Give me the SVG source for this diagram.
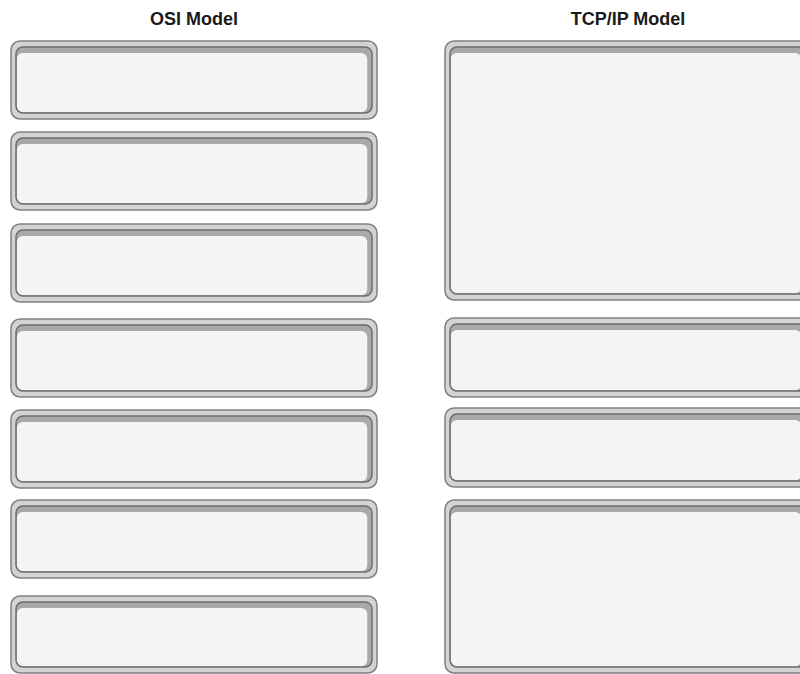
<svg xmlns="http://www.w3.org/2000/svg" width="800" height="674" viewBox="0 0 800 674">
<style>
.t{font-family:"Liberation Sans",Arial,sans-serif;font-weight:bold;font-size:18px;fill:#1a1a1a;text-anchor:middle}
.o{fill:#d3d3d3;stroke:#808080;stroke-width:1.5}
.b{fill:#a9a9a9}
.l{fill:#f3f4f4}
.s{fill:none;stroke:#6c6c6c;stroke-width:1.5}
</style>
<rect width="800" height="674" fill="#ffffff"/>
<text class="t" x="194" y="25">OSI Model</text>
<text class="t" x="628" y="25">TCP/IP Model</text>
<g id="osi-1" transform="translate(11,41)"><rect class="o" width="366" height="78" rx="9"/><rect class="b" x="5" y="6" width="356" height="66" rx="7"/><rect class="l" x="5.75" y="12" width="350.5" height="59.25" rx="6"/><rect class="s" x="5" y="6" width="356" height="66" rx="7"/></g>
<g id="osi-2" transform="translate(11,132)"><rect class="o" width="366" height="78" rx="9"/><rect class="b" x="5" y="6" width="356" height="66" rx="7"/><rect class="l" x="5.75" y="12" width="350.5" height="59.25" rx="6"/><rect class="s" x="5" y="6" width="356" height="66" rx="7"/></g>
<g id="osi-3" transform="translate(11,224)"><rect class="o" width="366" height="78" rx="9"/><rect class="b" x="5" y="6" width="356" height="66" rx="7"/><rect class="l" x="5.75" y="12" width="350.5" height="59.25" rx="6"/><rect class="s" x="5" y="6" width="356" height="66" rx="7"/></g>
<g id="osi-4" transform="translate(11,319)"><rect class="o" width="366" height="78" rx="9"/><rect class="b" x="5" y="6" width="356" height="66" rx="7"/><rect class="l" x="5.75" y="12" width="350.5" height="59.25" rx="6"/><rect class="s" x="5" y="6" width="356" height="66" rx="7"/></g>
<g id="osi-5" transform="translate(11,410)"><rect class="o" width="366" height="78" rx="9"/><rect class="b" x="5" y="6" width="356" height="66" rx="7"/><rect class="l" x="5.75" y="12" width="350.5" height="59.25" rx="6"/><rect class="s" x="5" y="6" width="356" height="66" rx="7"/></g>
<g id="osi-6" transform="translate(11,500)"><rect class="o" width="366" height="78" rx="9"/><rect class="b" x="5" y="6" width="356" height="66" rx="7"/><rect class="l" x="5.75" y="12" width="350.5" height="59.25" rx="6"/><rect class="s" x="5" y="6" width="356" height="66" rx="7"/></g>
<g id="osi-7" transform="translate(11,596)"><rect class="o" width="366" height="77" rx="9"/><rect class="b" x="5" y="6" width="356" height="65" rx="7"/><rect class="l" x="5.75" y="12" width="350.5" height="58.25" rx="6"/><rect class="s" x="5" y="6" width="356" height="65" rx="7"/></g>
<g id="tcp-1" transform="translate(445,41)"><rect class="o" width="366" height="259" rx="9"/><rect class="b" x="5" y="6" width="356" height="247" rx="7"/><rect class="l" x="5.75" y="12" width="350.5" height="240.25" rx="6"/><rect class="s" x="5" y="6" width="356" height="247" rx="7"/></g>
<g id="tcp-2" transform="translate(445,318)"><rect class="o" width="366" height="79" rx="9"/><rect class="b" x="5" y="6" width="356" height="67" rx="7"/><rect class="l" x="5.75" y="12" width="350.5" height="60.25" rx="6"/><rect class="s" x="5" y="6" width="356" height="67" rx="7"/></g>
<g id="tcp-3" transform="translate(445,408)"><rect class="o" width="366" height="79" rx="9"/><rect class="b" x="5" y="6" width="356" height="67" rx="7"/><rect class="l" x="5.75" y="12" width="350.5" height="60.25" rx="6"/><rect class="s" x="5" y="6" width="356" height="67" rx="7"/></g>
<g id="tcp-4" transform="translate(445,500)"><rect class="o" width="366" height="173" rx="9"/><rect class="b" x="5" y="6" width="356" height="161" rx="7"/><rect class="l" x="5.75" y="12" width="350.5" height="154.25" rx="6"/><rect class="s" x="5" y="6" width="356" height="161" rx="7"/></g>
<g id="connectors"/>
</svg>
